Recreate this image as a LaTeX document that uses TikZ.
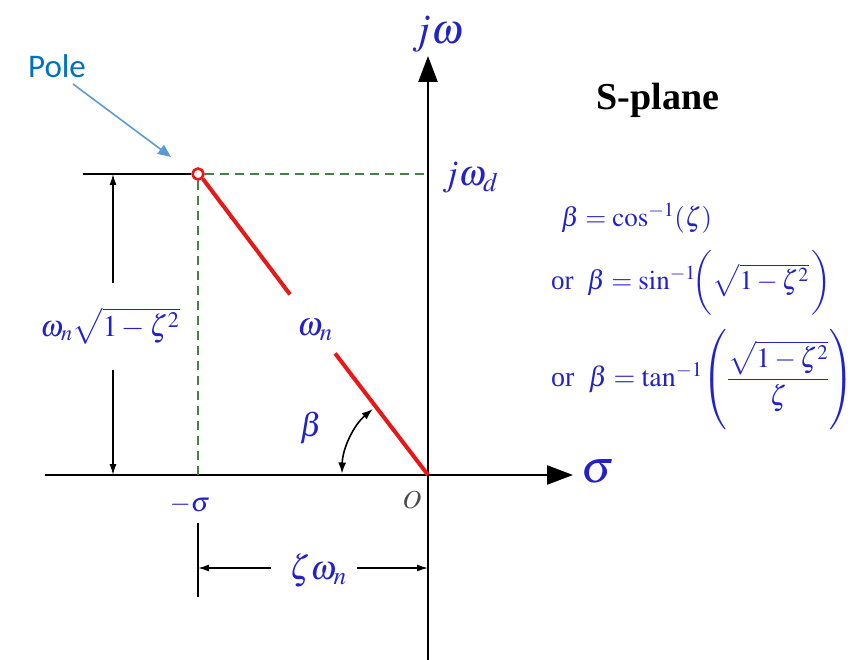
\documentclass[tikz,border=0pt]{standalone}
\usepackage{mathptmx}
\usepackage[no-math]{fontspec}
\setmainfont{Liberation Serif}
\newfontfamily\calib{Carlito}
\usetikzlibrary{arrows.meta,calc}
\definecolor{sblue}{RGB}{34,34,200}
\definecolor{poleblue}{RGB}{0,112,192}
\definecolor{arrblue}{RGB}{91,155,213}
\definecolor{sred}{RGB}{232,24,24}
\definecolor{sgreen}{RGB}{70,130,70}
\tikzset{
  axis/.style={line width=2.4pt,-{Triangle[length=26pt,width=19pt]}},
  dimline/.style={line width=1.4pt,-{Latex[length=11pt,width=7pt]}},
  thin black/.style={line width=1.6pt},
  guide/.style={sgreen,line width=1.4pt,dash pattern=on 9pt off 6pt},
  lbl/.style={text=sblue,inner sep=1pt},
  redline/.style={sred,line width=4pt},
}
\newcommand{\fs}[1]{\fontsize{#1}{#1}\selectfont}
\begin{document}
\begin{tikzpicture}[x=1pt,y=-1pt]
\useasboundingbox (0,0) rectangle (867,660);
% key coordinates
\coordinate (O) at (428,475);
\coordinate (Lft) at (45,475);
\coordinate (Rt) at (573,475);
\coordinate (Bot) at (428,660);
\coordinate (Top) at (428,56);
\coordinate (Pd) at (198,475);
\coordinate (Jd) at (428,174);
\coordinate (Hl) at (83,174);
% axes
\draw[axis] (Lft) -- (Rt);
\draw[axis] (Bot) -- (Top);
% pole
\node[circle,draw=sred,fill=white,line width=2.6pt,minimum size=11pt,inner sep=0pt] (P) at (198,174) {};
% guides
\draw[guide] (P.south) -- (Pd);
\draw[guide] (P.east) -- (Jd);
\draw[thin black] (Hl) -- (P.west);
% red line with gap
\draw[redline] (P.south east) -- ($(P)!0.40!(O)$);
\draw[redline] ($(P)!0.596!(O)$) -- (O);
\node[lbl,font=\fs{33}] (wn) at (315,330) {$\omega_n$};
% vertical dimension
\node[lbl,font=\fs{30}] (wsq) at (110,326) {$\omega_n\sqrt{1-\zeta^{2}}$};
\coordinate (Va) at (113,174);
\coordinate (Vb) at (113,475);
\coordinate (Vga) at (113,283);
\coordinate (Vgb) at (113,370);
\draw[dimline] (Vga) -- (Va);
\draw[dimline] (Vgb) -- (Vb);
% beta arc
\draw[line width=1.6pt,{Latex[length=11pt,width=8pt]}-{Latex[length=11pt,width=8pt]}] ($(O)+(181:86)$) arc[start angle=181,end angle=230,radius=86];
\node[lbl,font=\fs{33}] (beta) at (311,428) {$\beta$};
% bottom dimension
\coordinate (Ta) at (198,523);
\coordinate (Tb) at (198,597);
\draw[thin black] (Ta) -- (Tb);
\node[lbl,font=\fs{34}] (zw) at (318,570) {$\zeta\omega_n$};
\coordinate (Da) at (198,568);
\coordinate (Db) at (428,568);
\coordinate (Za) at (271,568);
\coordinate (Zb) at (357,568);
\draw[dimline] (Za) -- (Da);
\draw[dimline] (Zb) -- (Db);
% axis labels
\node[lbl,font=\fs{27}] (ms) at (190,505) {$-\sigma$};
\node[inner sep=1pt,font=\fs{26},text=black!70] (Olab) at (412,500) {$O$};
\node[lbl,font=\fs{46}] (sig) at (598,472) {$\sigma$};
\node[lbl,font=\fs{42}] (jw) at (438,34) {$j\omega$};
\node[lbl,font=\fs{36},anchor=west] (jwd) at (441,178) {$j\omega_d$};
\node[font=\fs{38}\bfseries,inner sep=0pt] (splane) at (658,100) {S-plane};
% formulas
\node[lbl,font=\fs{27},anchor=west] (f1) at (560,218) {$\beta=\cos^{-1}(\zeta)$};
\node[lbl,font=\fs{27},anchor=west] (f2) at (550,283) {or\enspace $\beta=\sin^{-1}\!\biggl(\sqrt{1-\zeta^{2}}\,\biggr)$};
\node[lbl,font=\fs{28},anchor=west] (f3) at (550,380) {or\enspace $\beta=\tan^{-1}\!\left(\rule[-44pt]{0pt}{88pt}\displaystyle\frac{\sqrt{1-\zeta^{2}}}{\zeta}\right)$};
% pole annotation
\node[font=\calib\fs{33},text=poleblue,inner sep=1pt] (Pole) at (57,66) {Pole};
\coordinate (Pa) at (73,84);
\coordinate (Pt) at (171,157);
\draw[arrblue,line width=1.6pt,-{Triangle[length=13pt,width=11pt]}] (Pa) -- (Pt);
\end{tikzpicture}
\end{document}
